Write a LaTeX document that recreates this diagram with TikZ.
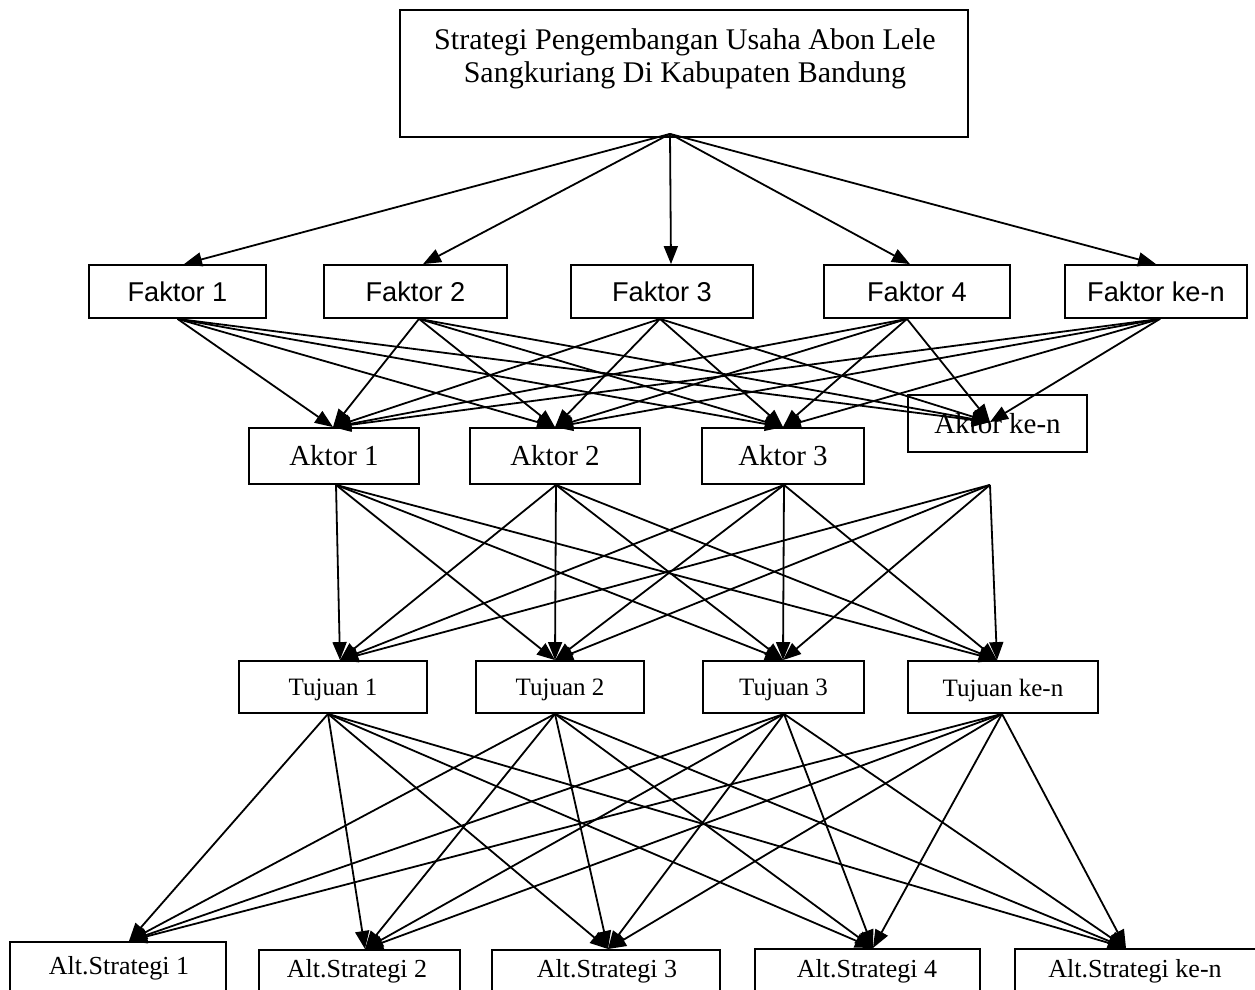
\documentclass[tikz,border=0pt]{standalone}
\usepackage{fontspec}
\setmainfont{Liberation Serif}
\newfontfamily\faktorfont{Liberation Sans}
\usetikzlibrary{arrows.meta,calc}
\tikzset{
  box/.style={draw, line width=0.9pt, inner sep=0pt},
  arr/.style={line width=0.9pt, -{Triangle[length=9pt,width=7pt]}},
  ftext/.style={font=\faktorfont\fontsize{13.6}{16}\selectfont},
  atext/.style={font=\fontsize{14.5}{17}\selectfont},
  ttext/.style={font=\fontsize{12.5}{15}\selectfont},
  stext/.style={font=\fontsize{13}{15}\selectfont},
}
\begin{document}
\begin{tikzpicture}[x=0.5pt,y=-0.5pt]
\useasboundingbox (0,0) rectangle (1255,990);
\clip (0,0) rectangle (1255,990);
% title
\node[box, minimum width=284pt, minimum height=63.5pt] (title) at (684,73.5) {};
\node[align=center, font=\fontsize{15}{16.5}\selectfont] (titletext) at (685,59)
  {Strategi Pengembangan Usaha Abon Lele\\Sangkuriang Di Kabupaten Bandung};
% faktor
\node[box, ftext, minimum width=88.5pt, minimum height=26.5pt] (f1) at (177.5,291.5) {Faktor 1};
\node[box, ftext, minimum width=91.5pt, minimum height=26.5pt] (f2) at (415.5,291.5) {Faktor 2};
\node[box, ftext, minimum width=91pt, minimum height=26.5pt] (f3) at (662,291.5) {Faktor 3};
\node[box, ftext, minimum width=93pt, minimum height=26.5pt] (f4) at (917,291.5) {Faktor 4};
\node[box, ftext, minimum width=91pt, minimum height=26.5pt] (f5) at (1156,291.5) {Faktor ke-n};
% aktor
\node[box, atext, minimum width=85pt, minimum height=28pt] (a1) at (334,456) {Aktor 1};
\node[box, atext, minimum width=85pt, minimum height=28pt] (a2) at (555,456) {Aktor 2};
\node[box, atext, minimum width=81pt, minimum height=28pt] (a3) at (783,456) {Aktor 3};
\node[box, atext, minimum width=89.5pt, minimum height=28.5pt] (a4) at (997.5,423.5) {Aktor ke-n};
% tujuan
\node[box, minimum width=94pt, minimum height=26pt] (t1) at (333,687) {};
\node[box, minimum width=84pt, minimum height=26pt] (t2) at (560,687) {};
\node[box, minimum width=80.5pt, minimum height=26pt] (t3) at (783.5,687) {};
\node[box, minimum width=95pt, minimum height=26pt] (t4) at (1003,687) {};
\node[ttext] (t1l) at (333,690) {Tujuan 1};
\node[ttext] (t2l) at (560,690) {Tujuan 2};
\node[ttext] (t3l) at (783.5,690) {Tujuan 3};
\node[ttext] (t4l) at (1003,690) {Tujuan ke-n};
% alternatives
\node[box, anchor=north, minimum width=108pt, minimum height=40pt] (s1box) at (118,941) {};
\node[box, anchor=north, minimum width=100.5pt, minimum height=40pt] (s2box) at (359.5,949) {};
\node[box, anchor=north, minimum width=114pt, minimum height=40pt] (s3box) at (606,949) {};
\node[box, anchor=north, minimum width=112.5pt, minimum height=40pt] (s4box) at (867.5,948) {};
\node[box, anchor=north, minimum width=127.5pt, minimum height=40pt] (s5box) at (1142.5,948) {};
\node[stext] (s1) at (119,968) {Alt.Strategi 1};
\node[stext] (s2) at (357,971) {Alt.Strategi 2};
\node[stext] (s3) at (607,971) {Alt.Strategi 3};
\node[stext] (s4) at (867,971) {Alt.Strategi 4};
\node[stext] (s5) at (1135,971) {Alt.Strategi ke-n};
% connection points
\coordinate (ts) at ($(title.south)+(-14,-4)$);
\coordinate (f1t) at ($(f1.north)+(6.5,0)$);
\coordinate (f2t) at ($(f2.north)+(7.5,0)$);
\coordinate (f3t) at ($(f3.north)+(9,0)$);
\coordinate (f4t) at ($(f4.north)+(-7,0)$);
\coordinate (f5t) at ($(f5.north)+(0,0)$);
\coordinate (f1b) at ($(f1.south)+(0,0)$);
\coordinate (f2b) at ($(f2.south)+(3.5,0)$);
\coordinate (f3b) at ($(f3.south)+(-2,0)$);
\coordinate (f4b) at ($(f4.south)+(-10,0)$);
\coordinate (f5b) at ($(f5.south)+(4,0)$);
\coordinate (a1t) at ($(a1.north)+(-1,0)$);
\coordinate (a2t) at ($(a2.north)+(0,0)$);
\coordinate (a3t) at ($(a3.north)+(0,0)$);
\coordinate (a4t) at ($(a4.north)+(-7.5,28)$);
\coordinate (a1b) at ($(a1.south)+(2,0)$);
\coordinate (a2b) at ($(a2.south)+(1,0)$);
\coordinate (a3b) at ($(a3.south)+(1,0)$);
\coordinate (a4b) at ($(a4.south)+(-7.5,32)$);
\coordinate (t1t) at ($(t1.north)+(7,0)$);
\coordinate (t2t) at ($(t2.north)+(-5,0)$);
\coordinate (t3t) at ($(t3.north)+(-0.5,0)$);
\coordinate (t4t) at ($(t4.north)+(-6,0)$);
\coordinate (t1b) at ($(t1.south)+(-5,0)$);
\coordinate (t2b) at ($(t2.south)+(-5,0)$);
\coordinate (t3b) at ($(t3.south)+(0.5,0)$);
\coordinate (t4b) at ($(t4.south)+(-1,0)$);
\coordinate (s1t) at ($(s1box.north)+(11,0)$);
\coordinate (s2t) at ($(s2box.north)+(5.5,0)$);
\coordinate (s3t) at ($(s3box.north)+(2,0)$);
\coordinate (s4t) at ($(s4box.north)+(5.5,0)$);
\coordinate (s5t) at ($(s5box.north)+(-16.5,0)$);
% connectors
\foreach \i in {1,...,5} \draw[arr] (ts) -- (f\i t);
\foreach \i in {1,...,5} \foreach \j in {1,...,4} \draw[arr] (f\i b) -- (a\j t);
\foreach \i in {1,...,4} \foreach \j in {1,...,4} \draw[arr] (a\i b) -- (t\j t);
\foreach \i in {1,...,4} \foreach \j in {1,...,5} \draw[arr] (t\i b) -- (s\j t);
\end{tikzpicture}
\end{document}
